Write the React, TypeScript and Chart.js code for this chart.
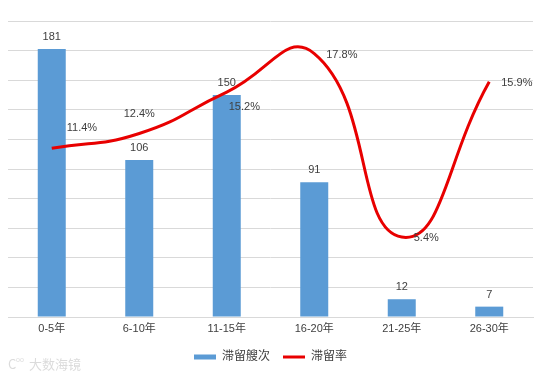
import React, { useEffect, useRef } from "react";
import { Chart, registerables } from "chart.js";

Chart.register(...registerables);

const categories = ["0-5年", "6-10年", "11-15年", "16-20年", "21-25年", "26-30年"];
const shipCounts = [181, 106, 150, 91, 12, 7];
const stayRates = [11.4, 12.4, 15.2, 17.8, 5.4, 15.9];
const barLabel = "滞留艘次";
const lineLabel = "滞留率";

const BLUE = "#5B9BD5";
const RED = "#E80000";
const TEXT = "#404040";
const GRID = "#D9D9D9";
const FONT = '"Liberation Sans", "Noto Sans CJK SC", sans-serif';

// label placement style for each line point
const LINE_LABEL_POS = ["upRight", "above", "downRight", "right", "right", "right"];

const labelPlugin = {
  id: "labels",
  afterDatasetsDraw(chart: any) {
    const ctx = chart.ctx;
    ctx.save();
    ctx.font = `11px ${FONT}`;
    ctx.fillStyle = TEXT;
    ctx.textBaseline = "middle";
    const barMeta = chart.getDatasetMeta(0);
    barMeta.data.forEach((el: any, i: number) => {
      ctx.textAlign = "center";
      ctx.fillText(String(shipCounts[i]), el.x, el.y - 12);
    });
    const lineMeta = chart.getDatasetMeta(1);
    lineMeta.data.forEach((el: any, i: number) => {
      const txt = stayRates[i].toFixed(1) + "%";
      const pos = LINE_LABEL_POS[i];
      if (pos === "above") {
        ctx.textAlign = "center";
        ctx.fillText(txt, el.x, el.y - 20);
      } else if (pos === "upRight") {
        ctx.textAlign = "left";
        ctx.fillText(txt, el.x + 15, el.y - 20);
      } else if (pos === "downRight") {
        ctx.textAlign = "left";
        ctx.fillText(txt, el.x + 2, el.y + 15);
      } else {
        ctx.textAlign = "left";
        ctx.fillText(txt, el.x + 12, el.y + 1);
      }
    });
    ctx.restore();
  },
  afterDraw(chart: any) {
    const ctx = chart.ctx;
    ctx.save();
    ctx.font = `13px "Noto Sans CJK SC", sans-serif`;
    ctx.fillStyle = "rgba(190,190,190,0.55)";
    ctx.textBaseline = "middle";
    ctx.textAlign = "left";
    ctx.fillText("C", 8, 364);
    ctx.font = `7px ${FONT}`;
    ctx.fillText("oo", 16, 360);
    ctx.font = `13px "Noto Sans CJK SC", sans-serif`;
    ctx.fillText("大数海镜", 29, 364);
    ctx.restore();
  },
};

export default function App() {
  const ref = useRef<HTMLCanvasElement | null>(null);
  useEffect(() => {
    if (!ref.current) return;
    const chart = new Chart(ref.current, {
      type: "bar",
      data: {
        labels: categories,
        datasets: [
          {
            type: "bar",
            label: barLabel,
            data: shipCounts,
            backgroundColor: BLUE,
            borderWidth: 0,
            categoryPercentage: 1,
            barPercentage: 0.32,
            yAxisID: "y",
            order: 2,
          },
          {
            type: "line",
            label: lineLabel,
            data: stayRates,
            borderColor: RED,
            backgroundColor: RED,
            borderWidth: 3,
            pointRadius: 0,
            tension: 0.5,
            yAxisID: "y1",
            order: 1,
          } as any,
        ],
      },
      options: {
        responsive: true,
        maintainAspectRatio: false,
        animation: false,
        layout: { padding: { left: 8, right: 21, top: 21, bottom: 7 } },
        plugins: {
          tooltip: { enabled: false },
          legend: {
            position: "bottom",
            labels: {
              usePointStyle: true,
              pointStyleWidth: 22,
              boxHeight: 5,
              padding: 13,
              color: TEXT,
              font: { size: 12, family: FONT },
              generateLabels: (ch: any) =>
                ch.data.datasets.map((ds: any, i: number) => ({
                  text: ds.label,
                  fillStyle: i === 0 ? BLUE : RED,
                  strokeStyle: i === 0 ? BLUE : RED,
                  lineWidth: i === 0 ? 0 : 3,
                  pointStyle: i === 0 ? "rect" : "line",
                  datasetIndex: i,
                  hidden: false,
                  fontColor: TEXT,
                })),
            },
          },
        },
        scales: {
          x: {
            grid: { display: false, drawTicks: false },
            border: { display: true, color: GRID },
            ticks: { color: TEXT, font: { size: 11, family: FONT }, padding: 5 },
            afterFit: (s: any) => {
              s.height = 21;
            },
          },
          y: {
            min: 0,
            max: 200,
            ticks: { display: false, stepSize: 20 },
            grid: { color: GRID, drawTicks: false },
            border: { display: false },
            afterFit: (s: any) => {
              s.width = 0;
            },
          },
          y1: {
            display: false,
            min: 0,
            max: 20,
            position: "right",
          },
        },
      },
      plugins: [labelPlugin],
    });
    return () => chart.destroy();
  }, []);
  return (
    <div style={{ position: "fixed", left: 0, top: 0, width: 554, height: 380, background: "#fff" }}>
      <canvas ref={ref} />
    </div>
  );
}
